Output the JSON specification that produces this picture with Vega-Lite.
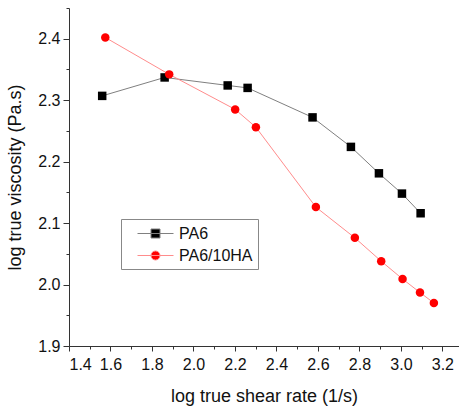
{
  "$schema": "https://vega.github.io/schema/vega-lite/v6.json",
  "autosize": {"type": "none"},
  "padding": {"left": 69, "top": 8, "right": 0, "bottom": 62},
  "width": 390,
  "height": 338,
  "config": {
    "view": {"stroke": null},
    "font": "Liberation Sans",
    "axis": {"grid": false, "domainColor": "#333", "tickColor": "#333", "labelColor": "#111", "titleColor": "#111", "labelFont": "Liberation Sans", "titleFont": "Liberation Sans", "titleFontWeight": "normal", "labelFontSize": 16, "titleFontSize": 18}
  },
  "data": {"values": [
    {"series": "PA6", "rate": 1.56, "visc": 2.307},
    {"series": "PA6", "rate": 1.861, "visc": 2.337},
    {"series": "PA6", "rate": 2.165, "visc": 2.324},
    {"series": "PA6", "rate": 2.261, "visc": 2.320},
    {"series": "PA6", "rate": 2.574, "visc": 2.272},
    {"series": "PA6", "rate": 2.759, "visc": 2.224},
    {"series": "PA6", "rate": 2.894, "visc": 2.181},
    {"series": "PA6", "rate": 3.005, "visc": 2.148},
    {"series": "PA6", "rate": 3.095, "visc": 2.116},
    {"series": "PA6/10HA", "rate": 1.575, "visc": 2.402},
    {"series": "PA6/10HA", "rate": 1.883, "visc": 2.342},
    {"series": "PA6/10HA", "rate": 2.201, "visc": 2.285},
    {"series": "PA6/10HA", "rate": 2.301, "visc": 2.256},
    {"series": "PA6/10HA", "rate": 2.590, "visc": 2.126},
    {"series": "PA6/10HA", "rate": 2.778, "visc": 2.076},
    {"series": "PA6/10HA", "rate": 2.905, "visc": 2.038},
    {"series": "PA6/10HA", "rate": 3.008, "visc": 2.009},
    {"series": "PA6/10HA", "rate": 3.092, "visc": 1.987},
    {"series": "PA6/10HA", "rate": 3.159, "visc": 1.970}
  ]},
  "resolve": {"axis": {"x": "independent", "y": "independent"}},
  "layer": [
    {
      "transform": [{"filter": "datum.series == 'PA6'"}],
      "mark": {"type": "line", "strokeWidth": 1, "color": "#808080"},
      "encoding": {
        "x": {"field": "rate", "type": "quantitative", "scale": {"domain": [1.4, 3.28], "nice": false, "zero": false},
              "axis": {"orient": "bottom", "values": [1.5, 1.7, 1.9, 2.1, 2.3, 2.5, 2.7, 2.9, 3.1], "labels": false, "tickSize": 3, "title": null, "domain": false}},
        "y": {"field": "visc", "type": "quantitative", "scale": {"domain": [1.9, 2.45], "nice": false, "zero": false},
              "axis": {"orient": "left", "values": [1.95, 2.05, 2.15, 2.25, 2.35, 2.45], "labels": false, "tickSize": 3, "title": null, "domain": false}}
      }
    },
    {
      "transform": [{"filter": "datum.series == 'PA6/10HA'"}],
      "mark": {"type": "line", "strokeWidth": 1, "color": "#ff8c8c"},
      "encoding": {
        "x": {"field": "rate", "type": "quantitative", "axis": null},
        "y": {"field": "visc", "type": "quantitative", "axis": null}
      }
    },
    {
      "transform": [{"filter": "datum.series == 'PA6'"}],
      "mark": {"type": "point", "filled": true, "opacity": 1, "size": 72, "shape": "square", "color": "#000000"},
      "encoding": {
        "x": {"field": "rate", "type": "quantitative", "axis": null},
        "y": {"field": "visc", "type": "quantitative", "axis": null}
      }
    },
    {
      "transform": [{"filter": "datum.series == 'PA6/10HA'"}],
      "mark": {"type": "point", "filled": true, "opacity": 1, "size": 72, "shape": "circle", "color": "#ff0000"},
      "encoding": {
        "x": {"field": "rate", "type": "quantitative",
              "axis": {"orient": "bottom", "values": [1.4, 1.6, 1.8, 2.0, 2.2, 2.4, 2.6, 2.8, 3.0, 3.2], "format": ".1f", "tickSize": 5, "labelPadding": 5, "title": "log true shear rate (1/s)", "titlePadding": 15}},
        "y": {"field": "visc", "type": "quantitative",
              "axis": {"orient": "left", "values": [1.9, 2.0, 2.1, 2.2, 2.3, 2.4], "format": ".1f", "tickSize": 6, "labelPadding": 3, "title": "log true viscosity (Pa.s)", "titlePadding": 13}}
      }
    },
    {
      "transform": [{"filter": "false"}],
      "mark": {"type": "point", "filled": true, "opacity": 1},
      "encoding": {
        "x": {"field": "rate", "type": "quantitative", "axis": null},
        "y": {"field": "visc", "type": "quantitative", "axis": null},
        "shape": {"field": "series", "type": "nominal", "scale": {"domain": ["PA6", "PA6/10HA"], "range": ["M-1,0H3M0.5,-0.5H1.5V0.5H0.5Z", "M-1,0H3M1.5,0A0.5,0.5,0,1,1,0.5,0A0.5,0.5,0,1,1,1.5,0Z"]},
                 "legend": {"title": null, "orient": "none", "legendX": 52, "legendY": 211, "strokeColor": "#888", "padding": 5, "symbolSize": 324, "symbolOffset": 11, "symbolStrokeWidth": 1, "labelFontSize": 16, "labelColor": "#111", "labelFont": "Liberation Sans", "rowPadding": 4, "labelOffset": 23}},
        "fill": {"field": "series", "type": "nominal", "scale": {"domain": ["PA6", "PA6/10HA"], "range": ["#000000", "#ff0000"]}},
        "stroke": {"field": "series", "type": "nominal", "scale": {"domain": ["PA6", "PA6/10HA"], "range": ["#808080", "#ff8c8c"]}}
      }
    }
  ]
}
